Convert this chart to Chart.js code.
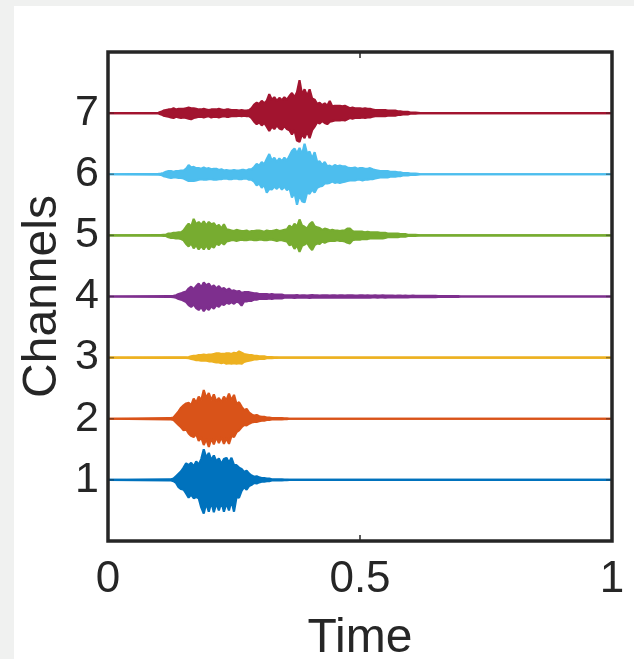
<!DOCTYPE html>
<html><head><meta charset="utf-8">
<script src="https://cdn.jsdelivr.net/npm/chart.js@4/dist/chart.umd.min.js"></script>
<style>
html,body{margin:0;padding:0;background:#f0f1f0;width:634px;height:659px;overflow:hidden}
#wrap{position:absolute;left:14px;top:6px;width:620px;height:653px;background:#fff}
canvas{display:block}
</style></head><body>
<div id="wrap"><canvas id="c" width="620" height="653"></canvas></div>
<script>
// ---- data ----
const channelNames = ['1','2','3','4','5','6','7'];
const channelColors = ['#0072BD','#D95319','#EDB120','#7E2F8E','#77AC30','#4DBEEE','#A2142F'];
const xTickValues = [0, 0.5, 1];
const xTickLabels = ['0', '0.5', '1'];
const yTickValues = [1, 2, 3, 4, 5, 6, 7];
const yTickLabels = ['1', '2', '3', '4', '5', '6', '7'];
const sampleStep = 0.005;           // time between envelope samples
const startTimes = [0.12, 0.12, 0.12, 0.12, 0.10, 0.10, 0.10];

// upper / lower excursion of each trace from its channel line (axis units)
const ch1Upper = [.01,.01,.02,.06,.10,.14,.20,.27,.24,.28,.22,.30,.25,.34,.50,.36,.44,.32,.40,.30,.35,.26,.34,.36,.28,.36,.24,.24,.20,.18,.13,.15,.10,.07,.05,.06,.04,.03,.03,.02,.02,.01,.01,.01,.01,.01,.005,.005,0];
const ch1Lower = [.01,.01,.02,.05,.12,.15,.16,.22,.29,.24,.30,.28,.30,.45,.55,.38,.52,.36,.53,.38,.50,.36,.52,.38,.50,.34,.52,.28,.29,.18,.12,.16,.10,.08,.05,.06,.04,.03,.03,.02,.02,.01,.01,.01,.01,.01,.005,.005,0];
const ch2Upper = [.01,.01,.02,.07,.12,.18,.22,.25,.26,.22,.33,.26,.36,.30,.47,.34,.42,.30,.40,.28,.34,.27,.36,.30,.41,.30,.39,.24,.27,.20,.14,.16,.10,.07,.05,.06,.04,.03,.03,.02,.02,.01,.01,.01,.01,.01,.005,.005,0];
const ch2Lower = [.01,.01,.02,.06,.10,.14,.19,.17,.24,.28,.30,.25,.36,.30,.43,.33,.46,.32,.42,.30,.40,.30,.41,.32,.41,.28,.30,.22,.19,.14,.10,.11,.08,.06,.05,.05,.04,.03,.03,.02,.02,.01,.01,.01,.01,.01,.005,.005,0];
const ch3Upper = [.005,.005,.005,.005,.005,.005,.005,.005,.01,.02,.03,.03,.04,.04,.05,.04,.05,.05,.06,.07,.07,.06,.06,.07,.07,.06,.08,.07,.10,.08,.06,.05,.04,.04,.03,.03,.02,.02,.02,.01,.01,.01,.005,.005,0];
const ch3Lower = [.005,.005,.005,.005,.005,.005,.005,.005,.01,.02,.03,.04,.04,.05,.05,.05,.06,.06,.07,.08,.08,.09,.08,.10,.09,.10,.09,.10,.09,.10,.07,.06,.05,.04,.03,.03,.02,.02,.02,.01,.01,.01,.005,.005,0];
const ch4Upper = [.005,.005,.01,.02,.04,.05,.07,.08,.13,.16,.12,.17,.21,.15,.23,.18,.21,.15,.18,.13,.17,.12,.14,.10,.13,.09,.10,.08,.09,.06,.07,.07,.07,.06,.05,.05,.04,.04,.04,.04,.03,.04,.03,.03,.03,.03,.02,.02,.02,
  .02,.02,.025,.015,.02,.02,.015,.02,.025,.02,.02,.015,.02,.02,.02,.015,.02,.02,.015,.02,.02,.015,.02,.02,.02,.015,.015,.02,.02,.015,.02,.015,.015,.02,.015,.015,.02,.015,.015,.015,.015,.01,.015,.015,.01,.015,.01,.01,.015,.01,.01,.01,.01,.01,.01,.01,.01,.01,.005,.005,.005,.005,.005,.005,.005,.005,.005,0];
const ch4Lower = [.005,.005,.01,.02,.04,.05,.07,.09,.14,.17,.13,.19,.22,.17,.24,.18,.22,.16,.20,.14,.17,.12,.14,.10,.12,.09,.12,.08,.10,.15,.08,.08,.07,.07,.05,.05,.04,.04,.04,.04,.03,.04,.03,.03,.03,.03,.02,.02,.02,
  .02,.025,.02,.02,.015,.02,.02,.025,.02,.02,.015,.02,.02,.02,.015,.02,.02,.015,.02,.02,.015,.02,.02,.02,.015,.02,.02,.015,.02,.02,.015,.02,.015,.015,.02,.015,.015,.02,.015,.015,.01,.015,.015,.01,.015,.01,.015,.01,.01,.01,.01,.01,.01,.01,.01,.01,.005,.01,.005,.005,.005,.005,.005,.005,.005,.005,.005,0];
const ch5Upper = [.005,.005,.01,.01,.03,.03,.04,.04,.05,.05,.08,.14,.19,.14,.27,.18,.22,.17,.23,.16,.22,.18,.20,.14,.17,.11,.18,.10,.09,.08,.07,.09,.08,.07,.07,.08,.06,.07,.07,.08,.08,.07,.06,.08,.07,.07,.08,.09,.07,.08,.09,.10,.16,.12,.19,.14,.26,.16,.14,.11,.18,.22,.15,.13,.12,.09,.11,.10,.08,.09,.08,.08,.07,.08,.08,.11,.11,.07,.06,.06,.06,.06,.05,.06,.05,.05,.05,.05,.04,.04,.04,.03,.03,.03,.03,.03,.02,.02,.02,.01,.01,.01,.01,.005,0];
const ch5Lower = [.005,.005,.01,.01,.03,.04,.04,.05,.05,.06,.08,.14,.18,.13,.21,.16,.23,.17,.23,.16,.23,.17,.20,.13,.16,.11,.15,.10,.09,.08,.08,.09,.08,.07,.08,.08,.07,.07,.08,.08,.07,.07,.08,.08,.07,.07,.08,.09,.08,.08,.09,.10,.16,.14,.22,.16,.27,.17,.15,.12,.19,.24,.16,.13,.14,.10,.12,.10,.09,.09,.09,.08,.09,.09,.10,.12,.13,.08,.07,.07,.07,.06,.06,.06,.05,.05,.05,.05,.05,.05,.04,.03,.03,.03,.03,.03,.02,.02,.02,.01,.01,.01,.01,.005,0];
const ch6Upper = [.005,.01,.02,.04,.05,.05,.04,.05,.05,.06,.06,.09,.15,.11,.12,.10,.10,.09,.11,.09,.10,.08,.09,.09,.07,.08,.06,.07,.06,.06,.07,.06,.06,.07,.07,.06,.08,.08,.12,.17,.14,.20,.16,.25,.33,.22,.27,.20,.26,.21,.27,.22,.30,.38,.42,.34,.43,.32,.50,.34,.37,.25,.36,.20,.21,.15,.20,.13,.14,.12,.15,.13,.14,.13,.13,.11,.10,.10,.11,.09,.10,.10,.09,.09,.10,.08,.07,.06,.05,.05,.05,.05,.04,.04,.04,.03,.03,.02,.02,.02,.01,.01,.01,.005,0];
const ch6Lower = [.005,.01,.03,.04,.05,.06,.05,.05,.06,.06,.07,.09,.11,.11,.11,.10,.09,.08,.09,.09,.08,.08,.09,.09,.08,.08,.07,.07,.08,.08,.07,.07,.08,.08,.07,.07,.09,.09,.12,.18,.15,.22,.17,.30,.24,.25,.20,.24,.19,.25,.20,.26,.22,.38,.30,.50,.34,.44,.46,.30,.32,.25,.30,.22,.20,.19,.15,.15,.14,.12,.14,.13,.14,.13,.12,.11,.10,.10,.10,.09,.09,.10,.09,.09,.08,.08,.07,.06,.05,.05,.05,.05,.04,.04,.04,.03,.03,.02,.02,.02,.01,.01,.01,.005,0];
const ch7Upper = [.005,.02,.04,.05,.06,.06,.08,.06,.07,.07,.07,.08,.09,.08,.08,.07,.06,.06,.07,.06,.05,.06,.06,.06,.07,.06,.05,.06,.06,.05,.05,.05,.04,.05,.04,.04,.05,.08,.14,.17,.15,.20,.16,.20,.31,.22,.26,.20,.25,.21,.26,.22,.28,.33,.26,.34,.54,.30,.39,.28,.39,.24,.22,.15,.17,.13,.16,.12,.20,.11,.12,.12,.12,.11,.12,.10,.08,.09,.08,.08,.08,.07,.08,.07,.07,.06,.05,.05,.05,.05,.05,.04,.04,.04,.04,.03,.03,.02,.02,.02,.01,.01,.01,.005,0];
const ch7Lower = [.005,.02,.04,.05,.06,.07,.08,.06,.07,.08,.07,.08,.09,.10,.08,.07,.06,.06,.07,.06,.05,.07,.06,.06,.07,.06,.05,.06,.06,.05,.05,.05,.04,.05,.04,.05,.05,.08,.14,.18,.15,.20,.16,.22,.29,.22,.26,.20,.25,.27,.21,.26,.28,.35,.28,.45,.47,.34,.41,.30,.41,.28,.22,.15,.17,.13,.16,.18,.14,.13,.12,.12,.12,.11,.12,.10,.08,.09,.08,.08,.08,.07,.08,.07,.07,.06,.05,.05,.05,.05,.05,.04,.04,.04,.04,.03,.03,.02,.02,.02,.01,.01,.01,.005,0];

const upperSignals = [ch1Upper, ch2Upper, ch3Upper, ch4Upper, ch5Upper, ch6Upper, ch7Upper];
const lowerSignals = [ch1Lower, ch2Lower, ch3Lower, ch4Lower, ch5Lower, ch6Lower, ch7Lower];

// ---- style ----
const axisColor = '#262626';
const fontFamily = '"Liberation Sans", Arial, Helvetica, sans-serif';

function tracePoints(k, sig, sign) {
  const base = yTickValues[k];
  const t0 = startTimes[k];
  const pts = [{x: xTickValues[0], y: base}];
  sig.forEach((v, i) => pts.push({x: t0 + i * sampleStep, y: base + sign * v}));
  pts.push({x: xTickValues[xTickValues.length - 1], y: base});
  return pts;
}

const datasets = [];
channelNames.forEach((name, k) => {
  const common = {
    borderColor: channelColors[k],
    backgroundColor: channelColors[k],
    borderWidth: 2.2,
    borderJoinStyle: 'bevel',
    pointRadius: 0,
    tension: 0,
    order: 8 - yTickValues[k]
  };
  datasets.push(Object.assign({label: 'Channel ' + name + ' (lower)', data: tracePoints(k, lowerSignals[k], -1), fill: false}, common));
  datasets.push(Object.assign({label: 'Channel ' + name, data: tracePoints(k, upperSignals[k], 1), fill: '-1'}, common));
});

const boxPlugin = {
  id: 'matlabBox',
  afterDatasetsDraw(chart) {
    const {ctx, chartArea: a, scales: {x, y}} = chart;
    ctx.save();
    const seg = (x1, y1, x2, y2) => { ctx.beginPath(); ctx.moveTo(x1, y1); ctx.lineTo(x2, y2); ctx.stroke(); };
    ctx.strokeStyle = axisColor;
    ctx.lineWidth = 1.5;
    const L = 6;
    xTickValues.forEach(v => {
      const px = x.getPixelForValue(v);
      seg(px, a.bottom, px, a.bottom - L);
      seg(px, a.top, px, a.top + L);
    });
    ctx.globalAlpha = 0.45;
    yTickValues.forEach(v => {
      const py = y.getPixelForValue(v);
      seg(a.left, py, a.left + L, py);
      seg(a.right, py, a.right - L, py);
    });
    ctx.globalAlpha = 1;
    ctx.lineWidth = 3.5;
    ctx.strokeRect(a.left, a.top, a.right - a.left, a.bottom - a.top);
    ctx.restore();
  }
};

new Chart(document.getElementById('c'), {
  type: 'line',
  data: {datasets},
  plugins: [boxPlugin],
  options: {
    responsive: false,
    animation: false,
    devicePixelRatio: 1,
    layout: {padding: {left: 0, top: 46, right: 22, bottom: 0}},
    plugins: {legend: {display: false}, tooltip: {enabled: false}},
    scales: {
      x: {
        type: 'linear', min: 0, max: 1,
        afterBuildTicks: s => { s.ticks = xTickValues.map(v => ({value: v})); },
        afterFit: s => { s.height = 118; s.paddingLeft = 0; s.paddingRight = 0; },
        ticks: {
          callback: v => xTickLabels[xTickValues.indexOf(v)],
          font: {family: fontFamily, size: 44}, color: axisColor,
          padding: 12, maxRotation: 0, autoSkip: false
        },
        grid: {display: false, drawTicks: false},
        border: {display: false},
        title: {display: true, text: 'Time', color: axisColor,
          font: {family: fontFamily, size: 48, lineHeight: 0.84}, padding: 0}
      },
      y: {
        type: 'linear', min: 0, max: 8,
        afterBuildTicks: s => { s.ticks = yTickValues.map(v => ({value: v})); },
        afterFit: s => { s.width = 94; },
        ticks: {
          callback: v => yTickLabels[yTickValues.indexOf(v)],
          font: {family: fontFamily, size: 43}, color: axisColor,
          padding: 9, autoSkip: false
        },
        grid: {display: false, drawTicks: false},
        border: {display: false},
        title: {display: true, text: 'Channels', color: axisColor,
          font: {family: fontFamily, size: 48, lineHeight: 1.2}, padding: 0}
      }
    }
  }
});
</script>
</body></html>
